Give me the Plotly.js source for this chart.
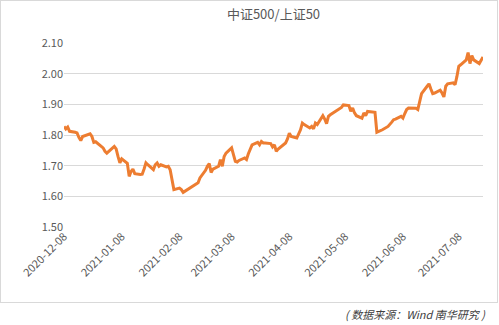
<!DOCTYPE html>
<html><head><meta charset="utf-8">
<script src="https://cdn.plot.ly/plotly-3.0.1.min.js"></script>
<style>
html,body{margin:0;padding:0;background:#fff;}
#frame{position:absolute;left:0;top:0;width:496px;height:301px;border:1px solid #d9d9d9;pointer-events:none;}
#chart{position:absolute;left:0;top:0;width:499px;height:325px;}
</style></head>
<body>
<div id="chart"></div>
<div id="frame"></div>
<script>
const dates = [
"2020-12-08","2020-12-09","2020-12-10","2020-12-11","2020-12-14","2020-12-15","2020-12-16","2020-12-17","2020-12-18",
"2020-12-21","2020-12-22","2020-12-23","2020-12-24","2020-12-25","2020-12-28","2020-12-29","2020-12-30","2020-12-31",
"2021-01-04","2021-01-05","2021-01-06","2021-01-07","2021-01-08","2021-01-11","2021-01-12","2021-01-13","2021-01-14","2021-01-15",
"2021-01-18","2021-01-19","2021-01-20","2021-01-21","2021-01-22","2021-01-25","2021-01-26","2021-01-27","2021-01-28","2021-01-29",
"2021-02-01","2021-02-02","2021-02-03","2021-02-04","2021-02-05","2021-02-08","2021-02-09","2021-02-10","2021-02-18","2021-02-19",
"2021-02-22","2021-02-23","2021-02-24","2021-02-25","2021-02-26","2021-03-01","2021-03-02","2021-03-03","2021-03-04","2021-03-05",
"2021-03-08","2021-03-09","2021-03-10","2021-03-11","2021-03-12","2021-03-15","2021-03-16","2021-03-17","2021-03-18","2021-03-19",
"2021-03-22","2021-03-23","2021-03-24","2021-03-25","2021-03-26","2021-03-29","2021-03-30","2021-03-31","2021-04-01","2021-04-02",
"2021-04-06","2021-04-07","2021-04-08","2021-04-09","2021-04-12","2021-04-13","2021-04-14","2021-04-15","2021-04-16",
"2021-04-19","2021-04-20","2021-04-21","2021-04-22","2021-04-23","2021-04-26","2021-04-27","2021-04-28","2021-04-29","2021-04-30",
"2021-05-06","2021-05-07","2021-05-10","2021-05-11","2021-05-12","2021-05-13","2021-05-14","2021-05-17","2021-05-18","2021-05-19",
"2021-05-20","2021-05-21","2021-05-24","2021-05-25","2021-05-26","2021-05-27","2021-05-28","2021-05-31","2021-06-01","2021-06-02",
"2021-06-03","2021-06-04","2021-06-07","2021-06-08","2021-06-09","2021-06-10","2021-06-11","2021-06-15","2021-06-16","2021-06-17",
"2021-06-18","2021-06-21","2021-06-22","2021-06-23","2021-06-24","2021-06-25","2021-06-28","2021-06-29","2021-06-30","2021-07-01",
"2021-07-02","2021-07-05","2021-07-06","2021-07-07","2021-07-08","2021-07-09","2021-07-12","2021-07-13","2021-07-14","2021-07-15",
"2021-07-16","2021-07-19","2021-07-20","2021-07-21"];

const ratio = [
1.828,1.820,1.826,1.812,1.809,1.807,1.792,1.782,1.795,
1.801,1.804,1.795,1.776,1.778,1.765,1.758,1.747,1.741,
1.763,1.755,1.730,1.709,1.722,1.708,1.665,1.681,1.689,1.674,
1.671,1.672,1.689,1.709,1.703,1.687,1.703,1.709,1.698,1.703,
1.696,1.698,1.687,1.654,1.622,1.627,1.622,1.613,1.644,1.660,
1.685,1.698,1.707,1.678,1.689,1.698,1.720,1.698,1.730,1.741,
1.758,1.736,1.714,1.712,1.717,1.725,1.720,1.739,1.752,1.768,
1.776,1.768,1.779,1.774,1.774,1.772,1.761,1.768,1.747,1.754,
1.774,1.787,1.806,1.795,1.790,1.805,1.817,1.839,1.834,
1.823,1.828,1.820,1.839,1.834,1.863,1.852,1.837,1.861,1.866,
1.890,1.898,1.896,1.877,1.888,1.872,1.863,1.855,1.872,1.863,
1.877,1.876,1.874,1.809,1.812,1.813,1.817,1.828,1.837,1.842,
1.850,1.852,1.861,1.855,1.870,1.883,1.888,1.887,1.883,1.910,
1.935,1.959,1.967,1.950,1.935,1.937,1.946,1.937,1.924,1.959,
1.967,1.970,1.964,1.991,2.024,2.029,2.045,2.069,2.033,2.059,
2.045,2.033,2.042,2.054];

const tickDates = ["2020-12-08","2021-01-08","2021-02-08","2021-03-08","2021-04-08","2021-05-08","2021-06-08","2021-07-08"];
const tickLabels = ["2020-12-08","2021-01-08","2021-02-08","2021-03-08","2021-04-08","2021-05-08","2021-06-08","2021-07-08"];
const yTicks = [1.50,1.60,1.70,1.80,1.90,2.00,2.10];
const titleText = "中证500/上证50";
const sourceText = "( 数据来源：Wind 南华研究 )";

const fontFam = "'Noto Sans CJK SC', 'Noto Sans', sans-serif";

const trace = {
  x: dates, y: ratio, type: 'scatter', mode: 'lines',
  line: {color: '#ED7D31', width: 3}, hoverinfo: 'skip'
};

const layout = {
  width: 499, height: 325,
  margin: {l: 63.5, r: 16, t: 43.3, b: 97.7, pad: 0},
  paper_bgcolor: 'rgba(0,0,0,0)', plot_bgcolor: 'rgba(0,0,0,0)',
  showlegend: false,
  title: {text: titleText, x: 0.5, xref: 'paper', xanchor: 'center', y: 1, yref: 'container', yanchor: 'top', pad: {t: 10},
          font: {family: fontFam, size: 13, color: '#595959'}},
  xaxis: {
    type: 'date', range: ['2020-12-08', '2021-07-21'],
    tickvals: tickDates, ticktext: tickLabels, tickangle: -45,
    showgrid: false, zeroline: false, showline: false, ticks: '',
    tickfont: {family: fontFam, size: 11, color: '#595959'}
  },
  yaxis: {
    range: [1.5, 2.1], tickvals: yTicks, tickformat: '.2f',
    showgrid: true, gridcolor: '#d9d9d9', gridwidth: 1,
    zeroline: false, showline: false, ticks: '', ticklen: 0,
    tickfont: {family: fontFam, size: 11, color: '#595959'}
  },
  annotations: [{
    text: sourceText, xref: 'paper', yref: 'paper', x: 1.012, y: -0.475,
    xanchor: 'right', yanchor: 'middle', showarrow: false,
    font: {family: fontFam, size: 11, color: '#404040', style: 'italic'}
  }]
};

Plotly.newPlot('chart', [trace], layout, {staticPlot: true, displayModeBar: false});
</script>
</body></html>
